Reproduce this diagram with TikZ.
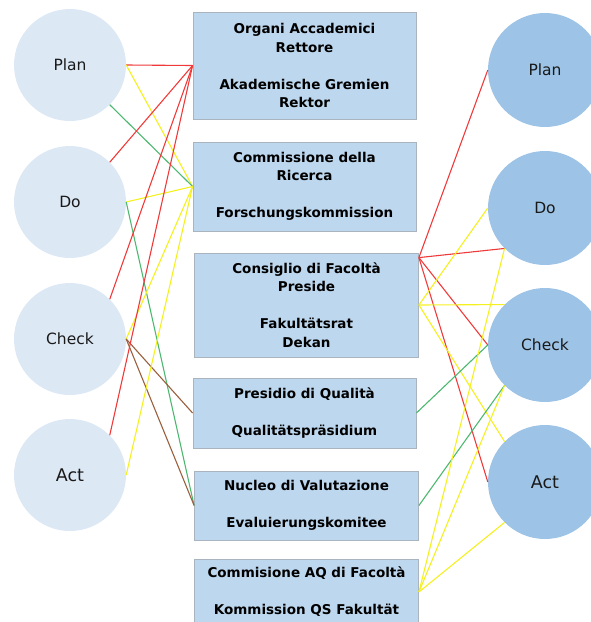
\documentclass[tikz,border=0pt]{standalone}
\usepackage{fontspec}
\setmainfont{DejaVu Sans}
\begin{document}
\begin{tikzpicture}[x=1pt,y=-1pt,
  lcirc/.style={circle,fill=lblue,minimum size=112pt,inner sep=0pt,text=black!90,font=\fontsize{15.5}{18}\selectfont},
  rcirc/.style={circle,fill=rblue,minimum size=114pt,inner sep=0pt,text=black!90,font=\fontsize{15.5}{18}\selectfont},
  boxnode/.style={rectangle,fill=bblue,draw=bborder,line width=0.8pt,inner sep=0pt,align=center,font=\fontsize{13.5}{18.5}\selectfont\bfseries},
  conn/.style={line width=1.1pt},
  cred/.style={conn,draw=lred},
  cyel/.style={conn,draw=lyel},
  cgrn/.style={conn,draw=lgrn},
  cbrn/.style={conn,draw=lbrn}]
\definecolor{lblue}{HTML}{DDE8F5}
\definecolor{rblue}{HTML}{9DC3E6}
\definecolor{bblue}{HTML}{BDD7EE}
\definecolor{bborder}{HTML}{A9B4BF}
\definecolor{lred}{HTML}{F03A3A}
\definecolor{lyel}{HTML}{F5F020}
\definecolor{lgrn}{HTML}{4DB870}
\definecolor{lbrn}{HTML}{9A5F3C}
\useasboundingbox (0,0) rectangle (591,622);
\clip (0,0) rectangle (591,622);
% left circles
\node[lcirc] (lplan) at (70,65) {Plan};
\node[lcirc] (ldo) at (70,202) {Do};
\node[lcirc] (lcheck) at (70,339) {Check};
\node[lcirc,font=\fontsize{17.5}{20}\selectfont] (lact) at (70,475) {Act};
% right circles
\node[rcirc] (rplan) at (545,70) {Plan};
\node[rcirc] (rdo) at (545,208) {Do};
\node[rcirc] (rcheck) at (545,345) {Check};
\node[rcirc,font=\fontsize{17.5}{20}\selectfont] (ract) at (545,482) {Act};
% boxes
\node[boxnode,minimum width=223pt,minimum height=107pt] (b1) at (304.5,65.5)
  {Organi Accademici\\Rettore\\[18.5pt]Akademische Gremien\\Rektor};
\node[boxnode,minimum width=223pt,minimum height=89pt] (b2) at (304.5,186.5)
  {Commissione della\\Ricerca\\[18.5pt]Forschungskommission};
\node[boxnode,minimum width=224pt,minimum height=104pt] (b3) at (306.5,305)
  {Consiglio di Facolt\`a\\Preside\\[18.5pt]Fakult\"atsrat\\Dekan};
\node[boxnode,minimum width=223pt,minimum height=70pt] (b4) at (304.5,413)
  {Presidio di Qualit\`a\\[18.5pt]Qualit\"atspr\"asidium};
\node[boxnode,minimum width=224pt,minimum height=69pt] (b5) at (306.5,505.5)
  {Nucleo di Valutazione\\[18.5pt]Evaluierungskomitee};
\node[boxnode,minimum width=224pt,minimum height=66pt] (b6) at (306.5,592)
  {Commisione AQ di Facolt\`a\\[18.5pt]Kommission QS Fakult\"at};
\coordinate (b3top) at ([yshift=-5pt]b3.north east);
% left connectors
\draw[cred] (lplan.east) -- (b1.west);
\draw[cyel] (lplan.east) -- (b2.west);
\draw[cgrn] (lplan.-45) -- (b2.west);
\draw[cred] (ldo.45) -- (b1.west);
\draw[cyel] (ldo.east) -- (b2.west);
\draw[cgrn] (ldo.east) -- (b5.west);
\draw[cred] (lcheck.45) -- (b1.west);
\draw[cyel] (lcheck.east) -- (b2.west);
\draw[cbrn] (lcheck.east) -- (b4.west);
\draw[cbrn] (lcheck.east) -- (b5.west);
\draw[cred] (lact.45) -- (b1.west);
\draw[cyel] (lact.east) -- (b2.west);
% right connectors
\draw[cred] (b3top) -- (rplan.west);
\draw[cred] (b3top) -- (rdo.225);
\draw[cred] (b3top) -- (rcheck.west);
\draw[cred] (b3top) -- (ract.west);
\draw[cyel] (b3.east) -- (rdo.west);
\draw[cyel] (b3.east) -- (rcheck.135);
\draw[cyel] (b3.east) -- (ract.135);
\draw[cgrn] (b4.east) -- (rcheck.west);
\draw[cgrn] (b5.east) -- (rcheck.225);
\draw[cyel] (b6.east) -- (rdo.225);
\draw[cyel] (b6.east) -- (rcheck.225);
\draw[cyel] (b6.east) -- (ract.225);
\end{tikzpicture}
\end{document}
